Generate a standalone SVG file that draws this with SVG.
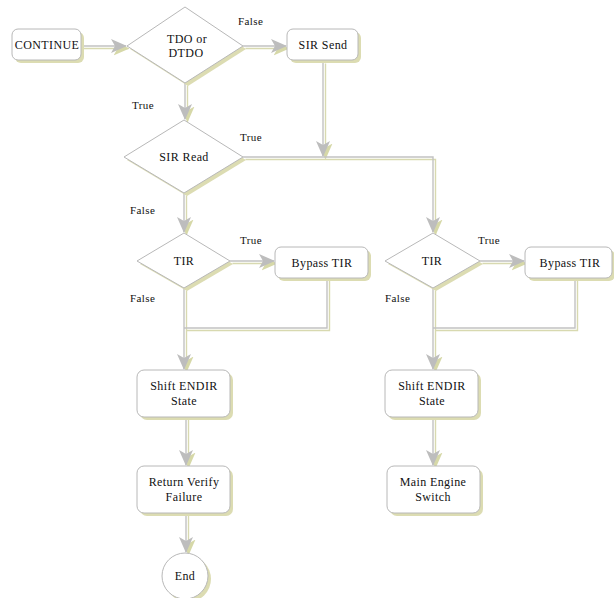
<svg xmlns="http://www.w3.org/2000/svg" width="614" height="598" viewBox="0 0 614 598">
<style>
.sh{fill:#dcdcb2;stroke:none}
.bx{fill:#ffffff;stroke:#b8b8b8;stroke-width:1}
.t{font-family:'Liberation Serif','DejaVu Serif','Times New Roman',serif;font-size:12px;fill:#111111;text-anchor:middle;letter-spacing:0.4px}
.lb{font-family:'Liberation Serif','DejaVu Serif','Times New Roman',serif;font-size:11px;fill:#111111;letter-spacing:0.4px}
.c{fill:none;stroke:#c2c2c2;stroke-width:1.4}
.cs{fill:none;stroke:#d8d9b0;stroke-width:1.4}
</style>
<defs>
<marker id="ag" markerWidth="16" markerHeight="14" refX="15" refY="7" orient="auto" markerUnits="userSpaceOnUse">
<path d="M0,0 L16,7 L0,14 L4,7 Z" fill="#bdbdbd"/>
</marker>
<marker id="ao" markerWidth="16" markerHeight="14" refX="15" refY="7" orient="auto" markerUnits="userSpaceOnUse">
<path d="M0,0 L16,7 L0,14 L4,7 Z" fill="#d6d8a8"/>
</marker>
</defs>

<g id="connectors">
<g transform="translate(2.5,2.5)">
<path class="cs" d="M81,46 H126" marker-end="url(#ao)"/>
<path class="cs" d="M243,46 H286" marker-end="url(#ao)"/>
<path class="cs" d="M185,83 V119" marker-end="url(#ao)"/>
<path class="cs" d="M323,61 V156" marker-end="url(#ao)"/>
<path class="cs" d="M243,157 H433 V232" marker-end="url(#ao)"/>
<path class="cs" d="M184,193 V232" marker-end="url(#ao)"/>
<path class="cs" d="M230,261 H274" marker-end="url(#ao)"/>
<path class="cs" d="M327,278 V328 H184"/>
<path class="cs" d="M184,288 V369" marker-end="url(#ao)"/>
<path class="cs" d="M186,417 V465" marker-end="url(#ao)"/>
<path class="cs" d="M186,513 V552" marker-end="url(#ao)"/>
<path class="cs" d="M480,261 H524" marker-end="url(#ao)"/>
<path class="cs" d="M575,278 V328 H433"/>
<path class="cs" d="M433,288 V369" marker-end="url(#ao)"/>
<path class="cs" d="M433,417 V465" marker-end="url(#ao)"/>
</g>
<path class="c" d="M81,46 H126" marker-end="url(#ag)"/>
<path class="c" d="M243,46 H286" marker-end="url(#ag)"/>
<path class="c" d="M185,83 V119" marker-end="url(#ag)"/>
<path class="c" d="M323,61 V156" marker-end="url(#ag)"/>
<path class="c" d="M243,157 H433 V232" marker-end="url(#ag)"/>
<path class="c" d="M184,193 V232" marker-end="url(#ag)"/>
<path class="c" d="M230,261 H274" marker-end="url(#ag)"/>
<path class="c" d="M327,278 V328 H184"/>
<path class="c" d="M184,288 V369" marker-end="url(#ag)"/>
<path class="c" d="M186,417 V465" marker-end="url(#ag)"/>
<path class="c" d="M186,513 V552" marker-end="url(#ag)"/>
<path class="c" d="M480,261 H524" marker-end="url(#ag)"/>
<path class="c" d="M575,278 V328 H433"/>
<path class="c" d="M433,288 V369" marker-end="url(#ag)"/>
<path class="c" d="M433,417 V465" marker-end="url(#ag)"/>
</g>

<g id="labels">
<text class="lb" x="238" y="25">False</text>
<text class="lb" x="132" y="109">True</text>
<text class="lb" x="240" y="141">True</text>
<text class="lb" x="130" y="214">False</text>
<text class="lb" x="240" y="244">True</text>
<text class="lb" x="130" y="302">False</text>
<text class="lb" x="478" y="244">True</text>
<text class="lb" x="385" y="302">False</text>
</g>

<g id="continue">
<rect class="sh" x="15" y="32" width="69" height="31" rx="6"/>
<rect class="bx" x="12" y="29" width="69" height="31" rx="6"/>
<text class="t" x="47" y="49">CONTINUE</text>
</g>

<g id="tdo">
<polygon class="sh" points="188,10 246,49 188,86 130,49"/>
<polygon class="bx" points="185,7 243,46 185,83 127,46"/>
<text class="t" x="187" y="43">TDO or</text>
<text class="t" x="186" y="57">DTDO</text>
</g>

<g id="sirsend">
<rect class="sh" x="290" y="32" width="71" height="31" rx="6"/>
<rect class="bx" x="287" y="29" width="71" height="31" rx="6"/>
<text class="t" x="323" y="49">SIR Send</text>
</g>

<g id="sirread">
<polygon class="sh" points="187,123 246,160 187,196 127,160"/>
<polygon class="bx" points="184,120 243,157 184,193 124,157"/>
<text class="t" x="184" y="161">SIR Read</text>
</g>

<g id="tir1">
<polygon class="sh" points="187,236 233,264 187,291 140,264"/>
<polygon class="bx" points="184,233 230,261 184,288 137,261"/>
<text class="t" x="184" y="265">TIR</text>
</g>

<g id="bypass1">
<rect class="sh" x="278" y="250" width="93" height="31" rx="6"/>
<rect class="bx" x="275" y="247" width="93" height="31" rx="6"/>
<text class="t" x="322" y="267">Bypass TIR</text>
</g>

<g id="shift1">
<rect class="sh" x="140" y="373" width="93" height="47" rx="7"/>
<rect class="bx" x="137" y="370" width="93" height="47" rx="7"/>
<text class="t" x="184" y="390">Shift ENDIR</text>
<text class="t" x="184" y="405">State</text>
</g>

<g id="returnverify">
<rect class="sh" x="140" y="469" width="93" height="47" rx="7"/>
<rect class="bx" x="137" y="466" width="93" height="47" rx="7"/>
<text class="t" x="184" y="486">Return Verify</text>
<text class="t" x="184" y="501">Failure</text>
</g>

<g id="end">
<circle class="sh" cx="188" cy="579" r="23"/>
<circle class="bx" cx="185" cy="576" r="23"/>
<text class="t" x="185" y="580">End</text>
</g>

<g id="tir2">
<polygon class="sh" points="436,236 483,264 436,291 388,264"/>
<polygon class="bx" points="433,233 480,261 433,288 385,261"/>
<text class="t" x="432" y="265">TIR</text>
</g>

<g id="bypass2">
<rect class="sh" x="528" y="250" width="87" height="31" rx="6"/>
<rect class="bx" x="525" y="247" width="87" height="31" rx="6"/>
<text class="t" x="570" y="267">Bypass TIR</text>
</g>

<g id="shift2">
<rect class="sh" x="388" y="373" width="93" height="47" rx="7"/>
<rect class="bx" x="385" y="370" width="93" height="47" rx="7"/>
<text class="t" x="432" y="390">Shift ENDIR</text>
<text class="t" x="432" y="405">State</text>
</g>

<g id="mainengine">
<rect class="sh" x="390" y="469" width="93" height="47" rx="7"/>
<rect class="bx" x="387" y="466" width="93" height="47" rx="7"/>
<text class="t" x="433" y="486">Main Engine</text>
<text class="t" x="433" y="501">Switch</text>
</g>
</svg>
